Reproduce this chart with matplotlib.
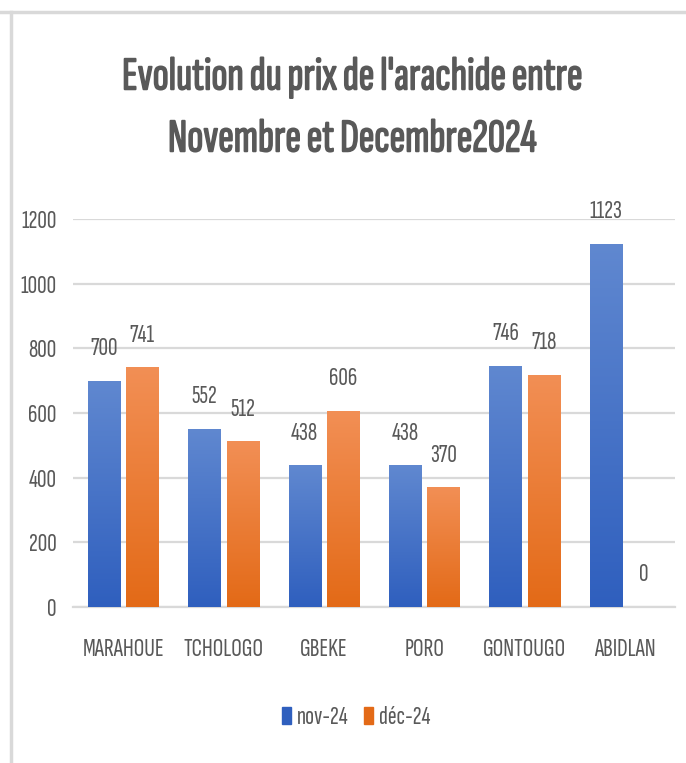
import numpy as np
import matplotlib.pyplot as plt
from matplotlib.lines import Line2D
from matplotlib.colors import LinearSegmentedColormap
import matplotlib.patheffects as pe

# Data
regions = ['MARAHOUE', 'TCHOLOGO', 'GBEKE', 'PORO', 'GONTOUGO', 'ABIDLAN']
nov_24 = [700, 552, 438, 438, 746, 1123]
dec_24 = [741, 512, 606, 370, 718, 0]
series_names = ['nov-24', 'déc-24']
y_ticks = [0, 200, 400, 600, 800, 1000, 1200]

title_lines = ["Evolution du prix de l'arachide entre", "Novembre et Decembre2024"]

# very narrow face, the original looks squeezed
plt.rcParams['font.family'] = ['Sofia Sans Extra Condensed', 'Saira ExtraCondensed',
                               'Barlow Condensed', 'DejaVu Sans']

text_grey = '#595959'
grid_grey = '#D9D9D9'
blue_top, blue_bot = '#6088D0', '#2F5FBE'
orange_top, orange_bot = '#F28F55', '#E36A17'

fig = plt.figure(figsize=(6.86, 7.63), dpi=100)
ax = fig.add_axes([73 / 686, 1 - 607 / 763, 602 / 686, 388 / 763])

x = np.arange(len(regions))
width = 0.32
offset = 0.19

bars_nov = ax.bar(x - offset, nov_24, width, color=blue_bot, zorder=2)
bars_dec = ax.bar(x + offset, dec_24, width, color=orange_bot, zorder=2)


def add_gradient(bars, top, bot):
    cmap = LinearSegmentedColormap.from_list('g', [bot, top])
    grad = np.linspace(0, 1, 256).reshape(-1, 1)
    for b in bars:
        h = b.get_height()
        if h <= 0:
            continue
        x0 = b.get_x()
        im = ax.imshow(grad, cmap=cmap, origin='lower', aspect='auto',
                       extent=[x0, x0 + b.get_width(), 0, h], zorder=3)
        im.set_clip_path(b)
        b.set_facecolor('none')


add_gradient(bars_nov, blue_top, blue_bot)
add_gradient(bars_dec, orange_top, orange_bot)

# value labels above bars
for bars, vals in [(bars_nov, nov_24), (bars_dec, dec_24)]:
    for b, v in zip(bars, vals):
        ax.annotate(str(v), (b.get_x() + b.get_width() / 2, v),
                    xytext=(0, 15), textcoords='offset points',
                    ha='center', va='bottom', fontsize=19, color=text_grey)

ax.set_xlim(-0.5, len(regions) - 0.5)
ax.set_ylim(0, 1200)
ax.set_yticks(y_ticks)
ax.set_xticks(x)
ax.set_xticklabels(regions)
ax.tick_params(axis='both', length=0, labelsize=19, labelcolor=text_grey)
ax.tick_params(axis='x', pad=22)
ax.tick_params(axis='y', pad=12)
ax.yaxis.grid(True, color=grid_grey, linewidth=1.6, zorder=0)
ax.set_axisbelow(True)
for side in ['top', 'right', 'left']:
    ax.spines[side].set_visible(False)
ax.spines['bottom'].set_color(grid_grey)
ax.spines['bottom'].set_linewidth(1.6)

# two title lines placed separately to get the wide line gap
for line, ypix in zip(title_lines, [78, 140]):
    fig.text(0.513, 1 - ypix / 763, line, ha='center', va='center',
             fontsize=34, fontweight='bold', color=text_grey,
             path_effects=[pe.withStroke(linewidth=1.1, foreground=text_grey)])

handles = [plt.Rectangle((0, 0), 1, 1, color=blue_bot),
           plt.Rectangle((0, 0), 1, 1, color=orange_bot)]
fig.legend(handles, series_names, loc='center', ncol=2,
           bbox_to_anchor=(356 / 686, 1 - 718 / 763), frameon=False,
           fontsize=19, labelcolor=text_grey, handlelength=0.35,
           handleheight=0.6, handletextpad=0.2, columnspacing=0.6,
           borderpad=0.2)

# light frame on the top and left edges
fig.add_artist(Line2D([0, 1], [1 - 12 / 763] * 2, color='#D9D9D9', lw=2.5))
fig.add_artist(Line2D([11 / 686] * 2, [0, 1 - 12 / 763], color='#D9D9D9', lw=2.5))

fig.savefig('out.png', dpi=100)
